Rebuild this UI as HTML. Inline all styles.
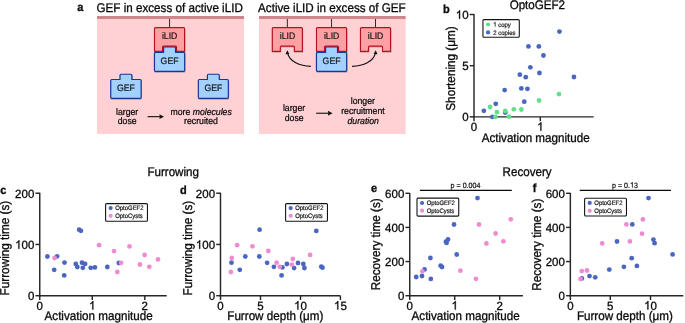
<!DOCTYPE html>
<html><head><meta charset="utf-8"><title>Figure</title>
<style>
html,body{margin:0;padding:0;background:#fff;}
body{width:685px;height:323px;overflow:hidden;}
svg{display:block;font-family:"Liberation Sans", sans-serif;text-rendering:geometricPrecision;will-change:transform;}
</style></head>
<body>
<svg width="685" height="323" viewBox="0 0 685 323">
<rect width="685" height="323" fill="#fff"/>
<text transform="translate(77.30,11.40) scale(0.25,0.2700)" font-size="44.00" text-anchor="start" font-weight="bold" fill="#0a0a0a" stroke="#0a0a0a" stroke-width="1.144">a</text>
<text transform="translate(96.50,11.80) scale(0.25,0.2700)" font-size="46.60" text-anchor="start" fill="#0a0a0a" stroke="#0a0a0a" stroke-width="1.212">GEF in excess of active iLID</text>
<text transform="translate(258.10,11.80) scale(0.25,0.2700)" font-size="46.60" text-anchor="start" fill="#0a0a0a" stroke="#0a0a0a" stroke-width="1.212">Active iLID in excess of GEF</text>
<rect x="97" y="16" width="147" height="118" fill="#ffd0d4"/>
<rect x="97" y="16" width="147" height="3" fill="#cd878b"/>
<rect x="259" y="16" width="146.6" height="118" fill="#ffd0d4"/>
<rect x="259" y="16" width="146.6" height="3" fill="#cd878b"/>
<path d="M164.60,46.85 H174.50 Q175.50,46.85 175.50,47.85 V52.40 H183.65 Q184.65,52.40 184.65,53.40 V70.30 Q184.65,71.30 183.65,71.30 H155.45 Q154.45,71.30 154.45,70.30 V53.40 Q154.45,52.40 155.45,52.40 H163.60 V47.85 Q163.60,46.85 164.60,46.85 Z" fill="none" stroke="#17398f" stroke-opacity="0.35" stroke-width="1.2" transform="translate(0.25,0.9)"/>
<path d="M155.50,27.55 H183.60 Q184.60,27.55 184.60,28.55 V51.35 H176.55 V47.05 Q176.55,46.05 175.55,46.05 H163.55 Q162.55,46.05 162.55,47.05 V51.35 H154.50 V28.55 Q154.50,27.55 155.50,27.55 Z" fill="none" stroke="#b3111b" stroke-opacity="0.3" stroke-width="1.2" transform="translate(0.25,0.9)"/>
<path d="M121.00,74.25 H130.90 Q131.90,74.25 131.90,75.25 V79.50 H140.15 Q141.15,79.50 141.15,80.50 V97.30 Q141.15,98.30 140.15,98.30 H111.75 Q110.75,98.30 110.75,97.30 V80.50 Q110.75,79.50 111.75,79.50 H120.00 V75.25 Q120.00,74.25 121.00,74.25 Z" fill="none" stroke="#17398f" stroke-opacity="0.35" stroke-width="1.2" transform="translate(0.25,0.9)"/>
<path d="M208.40,74.25 H218.30 Q219.30,74.25 219.30,75.25 V79.50 H227.35 Q228.35,79.50 228.35,80.50 V97.30 Q228.35,98.30 227.35,98.30 H199.35 Q198.35,98.30 198.35,97.30 V80.50 Q198.35,79.50 199.35,79.50 H207.40 V75.25 Q207.40,74.25 208.40,74.25 Z" fill="none" stroke="#17398f" stroke-opacity="0.35" stroke-width="1.2" transform="translate(0.25,0.9)"/>
<path d="M273.30,27.55 H301.40 Q302.40,27.55 302.40,28.55 V51.35 H294.35 V47.05 Q294.35,46.05 293.35,46.05 H281.35 Q280.35,46.05 280.35,47.05 V51.35 H272.30 V28.55 Q272.30,27.55 273.30,27.55 Z" fill="none" stroke="#b3111b" stroke-opacity="0.3" stroke-width="1.2" transform="translate(0.25,0.9)"/>
<path d="M326.60,46.80 H336.50 Q337.50,46.80 337.50,47.80 V52.40 H345.65 Q346.65,52.40 346.65,53.40 V70.30 Q346.65,71.30 345.65,71.30 H317.45 Q316.45,71.30 316.45,70.30 V53.40 Q316.45,52.40 317.45,52.40 H325.60 V47.80 Q325.60,46.80 326.60,46.80 Z" fill="none" stroke="#17398f" stroke-opacity="0.35" stroke-width="1.2" transform="translate(0.25,0.9)"/>
<path d="M317.50,27.55 H345.60 Q346.60,27.55 346.60,28.55 V51.35 H338.55 V47.05 Q338.55,46.05 337.55,46.05 H325.55 Q324.55,46.05 324.55,47.05 V51.35 H316.50 V28.55 Q316.50,27.55 317.50,27.55 Z" fill="none" stroke="#b3111b" stroke-opacity="0.3" stroke-width="1.2" transform="translate(0.25,0.9)"/>
<path d="M361.45,27.55 H389.55 Q390.55,27.55 390.55,28.55 V51.35 H382.50 V47.05 Q382.50,46.05 381.50,46.05 H369.50 Q368.50,46.05 368.50,47.05 V51.35 H360.45 V28.55 Q360.45,27.55 361.45,27.55 Z" fill="none" stroke="#b3111b" stroke-opacity="0.3" stroke-width="1.2" transform="translate(0.25,0.9)"/>
<path d="M164.60,46.85 H174.50 Q175.50,46.85 175.50,47.85 V52.40 H183.65 Q184.65,52.40 184.65,53.40 V70.30 Q184.65,71.30 183.65,71.30 H155.45 Q154.45,71.30 154.45,70.30 V53.40 Q154.45,52.40 155.45,52.40 H163.60 V47.85 Q163.60,46.85 164.60,46.85 Z" fill="#a2d0ff" stroke="#17398f" stroke-width="1.2" stroke-linejoin="round"/>
<text transform="translate(169.55,63.70) scale(0.25,0.2700)" font-size="34.80" text-anchor="middle" fill="#1a1a1a" stroke="#1a1a1a" stroke-width="0.905">GEF</text>
<path d="M155.50,27.55 H183.60 Q184.60,27.55 184.60,28.55 V51.35 H176.55 V47.05 Q176.55,46.05 175.55,46.05 H163.55 Q162.55,46.05 162.55,47.05 V51.35 H154.50 V28.55 Q154.50,27.55 155.50,27.55 Z" fill="#ffa0a4" stroke="#b3111b" stroke-width="1.15" stroke-linejoin="round"/>
<line x1="169.55" y1="19" x2="169.55" y2="27.150000000000002" stroke="#2a2a2a" stroke-width="1.0"/>
<text transform="translate(169.65,39.30) scale(0.25,0.2700)" font-size="34.80" text-anchor="middle" fill="#1a1a1a" stroke="#1a1a1a" stroke-width="0.905">iLID</text>
<path d="M121.00,74.25 H130.90 Q131.90,74.25 131.90,75.25 V79.50 H140.15 Q141.15,79.50 141.15,80.50 V97.30 Q141.15,98.30 140.15,98.30 H111.75 Q110.75,98.30 110.75,97.30 V80.50 Q110.75,79.50 111.75,79.50 H120.00 V75.25 Q120.00,74.25 121.00,74.25 Z" fill="#a2d0ff" stroke="#17398f" stroke-width="1.2" stroke-linejoin="round"/>
<text transform="translate(125.95,90.70) scale(0.25,0.2700)" font-size="34.80" text-anchor="middle" fill="#1a1a1a" stroke="#1a1a1a" stroke-width="0.905">GEF</text>
<path d="M208.40,74.25 H218.30 Q219.30,74.25 219.30,75.25 V79.50 H227.35 Q228.35,79.50 228.35,80.50 V97.30 Q228.35,98.30 227.35,98.30 H199.35 Q198.35,98.30 198.35,97.30 V80.50 Q198.35,79.50 199.35,79.50 H207.40 V75.25 Q207.40,74.25 208.40,74.25 Z" fill="#a2d0ff" stroke="#17398f" stroke-width="1.2" stroke-linejoin="round"/>
<text transform="translate(213.35,90.70) scale(0.25,0.2700)" font-size="34.80" text-anchor="middle" fill="#1a1a1a" stroke="#1a1a1a" stroke-width="0.905">GEF</text>
<path d="M273.30,27.55 H301.40 Q302.40,27.55 302.40,28.55 V51.35 H294.35 V47.05 Q294.35,46.05 293.35,46.05 H281.35 Q280.35,46.05 280.35,47.05 V51.35 H272.30 V28.55 Q272.30,27.55 273.30,27.55 Z" fill="#ffa0a4" stroke="#b3111b" stroke-width="1.15" stroke-linejoin="round"/>
<line x1="287.35" y1="19" x2="287.35" y2="27.150000000000002" stroke="#2a2a2a" stroke-width="1.0"/>
<text transform="translate(287.45,39.30) scale(0.25,0.2700)" font-size="34.80" text-anchor="middle" fill="#1a1a1a" stroke="#1a1a1a" stroke-width="0.905">iLID</text>
<path d="M326.60,46.80 H336.50 Q337.50,46.80 337.50,47.80 V52.40 H345.65 Q346.65,52.40 346.65,53.40 V70.30 Q346.65,71.30 345.65,71.30 H317.45 Q316.45,71.30 316.45,70.30 V53.40 Q316.45,52.40 317.45,52.40 H325.60 V47.80 Q325.60,46.80 326.60,46.80 Z" fill="#a2d0ff" stroke="#17398f" stroke-width="1.2" stroke-linejoin="round"/>
<text transform="translate(331.55,63.70) scale(0.25,0.2700)" font-size="34.80" text-anchor="middle" fill="#1a1a1a" stroke="#1a1a1a" stroke-width="0.905">GEF</text>
<path d="M317.50,27.55 H345.60 Q346.60,27.55 346.60,28.55 V51.35 H338.55 V47.05 Q338.55,46.05 337.55,46.05 H325.55 Q324.55,46.05 324.55,47.05 V51.35 H316.50 V28.55 Q316.50,27.55 317.50,27.55 Z" fill="#ffa0a4" stroke="#b3111b" stroke-width="1.15" stroke-linejoin="round"/>
<line x1="331.55" y1="19" x2="331.55" y2="27.150000000000002" stroke="#2a2a2a" stroke-width="1.0"/>
<text transform="translate(331.65,39.30) scale(0.25,0.2700)" font-size="34.80" text-anchor="middle" fill="#1a1a1a" stroke="#1a1a1a" stroke-width="0.905">iLID</text>
<path d="M361.45,27.55 H389.55 Q390.55,27.55 390.55,28.55 V51.35 H382.50 V47.05 Q382.50,46.05 381.50,46.05 H369.50 Q368.50,46.05 368.50,47.05 V51.35 H360.45 V28.55 Q360.45,27.55 361.45,27.55 Z" fill="#ffa0a4" stroke="#b3111b" stroke-width="1.15" stroke-linejoin="round"/>
<line x1="375.5" y1="19" x2="375.5" y2="27.150000000000002" stroke="#2a2a2a" stroke-width="1.0"/>
<text transform="translate(375.60,39.30) scale(0.25,0.2700)" font-size="34.80" text-anchor="middle" fill="#1a1a1a" stroke="#1a1a1a" stroke-width="0.905">iLID</text>
<line x1="147.6" y1="116.65" x2="161.1" y2="116.65" stroke="#161616" stroke-width="1.15"/>
<path d="M164.10,116.65 L159.40,114.25 L159.80,116.65 L159.40,119.05 Z" fill="#161616"/>
<line x1="316.2" y1="113.25" x2="329.6" y2="113.25" stroke="#161616" stroke-width="1.15"/>
<path d="M332.60,113.25 L327.90,110.85 L328.30,113.25 L327.90,115.65 Z" fill="#161616"/>
<path d="M310.9,66.4 C299.5,66.0 289.6,61.5 287.7,53.3" fill="none" stroke="#111" stroke-width="1.2"/>
<path d="M287.3,50.2 L285.5,54.2 L289.3,54.0 Z" fill="#111"/>
<path d="M352.1,66.4 C363.5,66.0 373.4,61.5 375.3,53.3" fill="none" stroke="#111" stroke-width="1.2"/>
<path d="M375.7,50.2 L377.5,54.2 L373.7,54.0 Z" fill="#111"/>
<text transform="translate(127.10,114.60) scale(0.25,0.2700)" font-size="34.80" text-anchor="middle" fill="#0a0a0a" stroke="#0a0a0a" stroke-width="0.905">larger</text>
<text transform="translate(127.20,124.40) scale(0.25,0.2700)" font-size="34.80" text-anchor="middle" fill="#0a0a0a" stroke="#0a0a0a" stroke-width="0.905">dose</text>
<text transform="translate(201.10,114.60) scale(0.25,0.2700)" font-size="34.80" text-anchor="middle" fill="#0a0a0a" stroke="#0a0a0a" stroke-width="0.905">more <tspan font-style="italic">molecules</tspan></text>
<text transform="translate(201.00,124.40) scale(0.25,0.2700)" font-size="34.80" text-anchor="middle" fill="#0a0a0a" stroke="#0a0a0a" stroke-width="0.905">recruited</text>
<text transform="translate(294.00,111.30) scale(0.25,0.2700)" font-size="34.80" text-anchor="middle" fill="#0a0a0a" stroke="#0a0a0a" stroke-width="0.905">larger</text>
<text transform="translate(294.20,121.00) scale(0.25,0.2700)" font-size="34.80" text-anchor="middle" fill="#0a0a0a" stroke="#0a0a0a" stroke-width="0.905">dose</text>
<text transform="translate(362.80,104.45) scale(0.25,0.2700)" font-size="34.80" text-anchor="middle" fill="#0a0a0a" stroke="#0a0a0a" stroke-width="0.905">longer</text>
<text transform="translate(362.90,114.30) scale(0.25,0.2700)" font-size="34.80" text-anchor="middle" fill="#0a0a0a" stroke="#0a0a0a" stroke-width="0.905">recruitment</text>
<text transform="translate(363.20,124.10) scale(0.25,0.2700)" font-size="34.80" text-anchor="middle" font-style="italic" fill="#0a0a0a" stroke="#0a0a0a" stroke-width="0.905">duration</text>
<text transform="translate(443.00,12.60) scale(0.25,0.2700)" font-size="44.00" text-anchor="start" font-weight="bold" fill="#0a0a0a" stroke="#0a0a0a" stroke-width="1.144">b</text>
<text transform="translate(537.35,8.50) scale(0.25,0.2700)" font-size="46.40" text-anchor="middle" fill="#0a0a0a" stroke="#0a0a0a" stroke-width="1.206">OptoGEF2</text>
<line x1="474.0" y1="14.1" x2="474.0" y2="117.55" stroke="#262626" stroke-width="1.45"/>
<line x1="469.7" y1="14.5" x2="474.0" y2="14.5" stroke="#262626" stroke-width="1.45"/>
<path d="M763,0 L583,0 L583,1147 Q518,1085 412,1023 Q307,961 223,930 L223,1104 Q374,1175 487,1276 Q600,1377 647,1472 L763,1472 Z" fill="#0a0a0a" stroke="#0a0a0a" stroke-width="53.2" transform="translate(455.76,18.85) scale(0.005615,-0.005840)"/>
<text transform="translate(468.55,18.85) scale(0.25,0.2600)" font-size="46.00" text-anchor="end" fill="#0a0a0a" stroke="#0a0a0a" stroke-width="1.196"> 0</text>
<line x1="469.7" y1="65.7" x2="474.0" y2="65.7" stroke="#262626" stroke-width="1.45"/>
<text transform="translate(468.55,70.05) scale(0.25,0.2600)" font-size="46.00" text-anchor="end" fill="#0a0a0a" stroke="#0a0a0a" stroke-width="1.196">5</text>
<line x1="469.7" y1="116.85" x2="474.0" y2="116.85" stroke="#262626" stroke-width="1.45"/>
<text transform="translate(468.55,121.20) scale(0.25,0.2600)" font-size="46.00" text-anchor="end" fill="#0a0a0a" stroke="#0a0a0a" stroke-width="1.196">0</text>
<line x1="473.3" y1="116.85" x2="593.7" y2="116.85" stroke="#262626" stroke-width="1.45"/>
<line x1="474.0" y1="116.85" x2="474.0" y2="121.14999999999999" stroke="#262626" stroke-width="1.45"/>
<text transform="translate(474.00,130.75) scale(0.25,0.2600)" font-size="46.00" text-anchor="middle" fill="#0a0a0a" stroke="#0a0a0a" stroke-width="1.196">0</text>
<line x1="540.3" y1="116.85" x2="540.3" y2="121.14999999999999" stroke="#262626" stroke-width="1.45"/>
<path d="M763,0 L583,0 L583,1147 Q518,1085 412,1023 Q307,961 223,930 L223,1104 Q374,1175 487,1276 Q600,1377 647,1472 L763,1472 Z" fill="#0a0a0a" stroke="#0a0a0a" stroke-width="53.2" transform="translate(537.10,130.75) scale(0.005615,-0.005840)"/>
<text transform="translate(540.30,130.75) scale(0.25,0.2600)" font-size="46.00" text-anchor="middle" fill="#0a0a0a" stroke="#0a0a0a" stroke-width="1.196"> </text>
<text transform="translate(535.70,141.80) scale(0.25,0.2700)" font-size="46.60" text-anchor="middle" fill="#0a0a0a" stroke="#0a0a0a" stroke-width="1.212">Activation magnitude</text>
<text transform="translate(454.50,68.50) rotate(-90) scale(0.25,0.2725)" font-size="47.00" text-anchor="middle" fill="#0a0a0a" stroke="#0a0a0a" stroke-width="1.222">Shortening (μm)</text>
<rect x="482.95" y="19.60" width="36.35" height="17.70" rx="1.0" fill="#fff" stroke="#141414" stroke-width="1.1"/>
<circle cx="488.05" cy="24.5" r="2.1" fill="#62df8b"/>
<path d="M763,0 L583,0 L583,1147 Q518,1085 412,1023 Q307,961 223,930 L223,1104 Q374,1175 487,1276 Q600,1377 647,1472 L763,1472 Z" fill="#0a0a0a" stroke="#0a0a0a" stroke-width="53.2" transform="translate(493.15,26.60) scale(0.002930,-0.003164)"/>
<text transform="translate(493.15,26.60) scale(0.25,0.2700)" font-size="24.00" text-anchor="start" fill="#0a0a0a" stroke="#0a0a0a" stroke-width="0.624">  copy</text>
<circle cx="488.05" cy="32.4" r="2.1" fill="#4a66c0"/>
<text transform="translate(493.15,34.50) scale(0.25,0.2700)" font-size="24.00" text-anchor="start" fill="#0a0a0a" stroke="#0a0a0a" stroke-width="0.624">2 copies</text>
<circle cx="559.4499999999999" cy="31.6" r="2.4" fill="#4a66c0"/>
<circle cx="528.4499999999999" cy="46.4" r="2.4" fill="#4a66c0"/>
<circle cx="538.85" cy="46.4" r="2.4" fill="#4a66c0"/>
<circle cx="543.4499999999999" cy="55.5" r="2.4" fill="#4a66c0"/>
<circle cx="530.35" cy="67.3" r="2.4" fill="#4a66c0"/>
<circle cx="539.4499999999999" cy="73.0" r="2.4" fill="#4a66c0"/>
<circle cx="519.85" cy="74.7" r="2.4" fill="#4a66c0"/>
<circle cx="525.75" cy="77.2" r="2.4" fill="#4a66c0"/>
<circle cx="573.9499999999999" cy="77.0" r="2.4" fill="#4a66c0"/>
<circle cx="504.65" cy="90.1" r="2.4" fill="#4a66c0"/>
<circle cx="521.35" cy="88.39999999999999" r="2.4" fill="#4a66c0"/>
<circle cx="527.4499999999999" cy="88.8" r="2.4" fill="#4a66c0"/>
<circle cx="524.25" cy="101.7" r="2.4" fill="#4a66c0"/>
<circle cx="495.75" cy="103.8" r="2.4" fill="#4a66c0"/>
<circle cx="483.84999999999997" cy="110.8" r="2.4" fill="#4a66c0"/>
<circle cx="505.25" cy="112.5" r="2.4" fill="#4a66c0"/>
<circle cx="492.34999999999997" cy="116.89999999999999" r="2.4" fill="#4a66c0"/>
<circle cx="558.9499999999999" cy="94.1" r="2.4" fill="#62df8b"/>
<circle cx="539.05" cy="100.5" r="2.4" fill="#62df8b"/>
<circle cx="490.04999999999995" cy="107.0" r="2.4" fill="#62df8b"/>
<circle cx="513.85" cy="109.3" r="2.4" fill="#62df8b"/>
<circle cx="521.35" cy="109.5" r="2.4" fill="#62df8b"/>
<circle cx="496.95" cy="112.1" r="2.4" fill="#62df8b"/>
<circle cx="505.25" cy="111.0" r="2.4" fill="#62df8b"/>
<circle cx="495.34999999999997" cy="116.89999999999999" r="2.4" fill="#62df8b"/>
<circle cx="509.04999999999995" cy="116.7" r="2.4" fill="#62df8b"/>
<text transform="translate(147.40,175.70) scale(0.25,0.2700)" font-size="46.40" text-anchor="start" fill="#0a0a0a" stroke="#0a0a0a" stroke-width="1.206">Furrowing</text>
<text transform="translate(502.60,176.00) scale(0.25,0.2700)" font-size="46.40" text-anchor="start" fill="#0a0a0a" stroke="#0a0a0a" stroke-width="1.206">Recovery</text>
<text transform="translate(0.20,193.70) scale(0.25,0.2700)" font-size="44.00" text-anchor="start" font-weight="bold" fill="#0a0a0a" stroke="#0a0a0a" stroke-width="1.144">c</text>
<line x1="39.75" y1="192.79999999999998" x2="39.75" y2="296.4" stroke="#262626" stroke-width="1.45"/>
<line x1="35.45" y1="193.2" x2="39.75" y2="193.2" stroke="#262626" stroke-width="1.45"/>
<text transform="translate(34.30,197.55) scale(0.25,0.2600)" font-size="46.00" text-anchor="end" fill="#0a0a0a" stroke="#0a0a0a" stroke-width="1.196">200</text>
<line x1="35.45" y1="244.45" x2="39.75" y2="244.45" stroke="#262626" stroke-width="1.45"/>
<path d="M763,0 L583,0 L583,1147 Q518,1085 412,1023 Q307,961 223,930 L223,1104 Q374,1175 487,1276 Q600,1377 647,1472 L763,1472 Z" fill="#0a0a0a" stroke="#0a0a0a" stroke-width="53.2" transform="translate(15.11,248.80) scale(0.005615,-0.005840)"/>
<text transform="translate(34.30,248.80) scale(0.25,0.2600)" font-size="46.00" text-anchor="end" fill="#0a0a0a" stroke="#0a0a0a" stroke-width="1.196"> 00</text>
<line x1="35.45" y1="295.7" x2="39.75" y2="295.7" stroke="#262626" stroke-width="1.45"/>
<text transform="translate(34.30,300.05) scale(0.25,0.2600)" font-size="46.00" text-anchor="end" fill="#0a0a0a" stroke="#0a0a0a" stroke-width="1.196">0</text>
<line x1="39.05" y1="295.7" x2="166.7" y2="295.7" stroke="#262626" stroke-width="1.45"/>
<line x1="39.75" y1="295.7" x2="39.75" y2="300.0" stroke="#262626" stroke-width="1.45"/>
<text transform="translate(39.75,309.60) scale(0.25,0.2600)" font-size="46.00" text-anchor="middle" fill="#0a0a0a" stroke="#0a0a0a" stroke-width="1.196">0</text>
<line x1="92.25" y1="295.7" x2="92.25" y2="300.0" stroke="#262626" stroke-width="1.45"/>
<path d="M763,0 L583,0 L583,1147 Q518,1085 412,1023 Q307,961 223,930 L223,1104 Q374,1175 487,1276 Q600,1377 647,1472 L763,1472 Z" fill="#0a0a0a" stroke="#0a0a0a" stroke-width="53.2" transform="translate(89.05,309.60) scale(0.005615,-0.005840)"/>
<text transform="translate(92.25,309.60) scale(0.25,0.2600)" font-size="46.00" text-anchor="middle" fill="#0a0a0a" stroke="#0a0a0a" stroke-width="1.196"> </text>
<line x1="144.8" y1="295.7" x2="144.8" y2="300.0" stroke="#262626" stroke-width="1.45"/>
<text transform="translate(144.80,309.60) scale(0.25,0.2600)" font-size="46.00" text-anchor="middle" fill="#0a0a0a" stroke="#0a0a0a" stroke-width="1.196">2</text>
<text transform="translate(98.60,319.80) scale(0.25,0.2700)" font-size="46.60" text-anchor="middle" fill="#0a0a0a" stroke="#0a0a0a" stroke-width="1.212">Activation magnitude</text>
<text transform="translate(8.50,248.10) rotate(-90) scale(0.25,0.2725)" font-size="47.00" text-anchor="middle" fill="#0a0a0a" stroke="#0a0a0a" stroke-width="1.222">Furrowing time (s)</text>
<rect x="105.60" y="203.60" width="41.85" height="17.70" rx="1.0" fill="#fff" stroke="#141414" stroke-width="1.1"/>
<circle cx="110.65" cy="208.1" r="2.1" fill="#4a66c0"/>
<text transform="translate(115.25,210.20) scale(0.25,0.2700)" font-size="23.60" text-anchor="start" fill="#0a0a0a" stroke="#0a0a0a" stroke-width="0.614">OptoGEF2</text>
<circle cx="110.65" cy="215.85" r="2.1" fill="#ef8bd2"/>
<text transform="translate(115.25,217.95) scale(0.25,0.2700)" font-size="23.60" text-anchor="start" fill="#0a0a0a" stroke="#0a0a0a" stroke-width="0.614">OptoCysts</text>
<circle cx="79.2" cy="229.7" r="2.4" fill="#4a66c0"/>
<circle cx="80.9" cy="230.8" r="2.4" fill="#4a66c0"/>
<circle cx="47.4" cy="256.5" r="2.4" fill="#4a66c0"/>
<circle cx="57.1" cy="256.3" r="2.4" fill="#4a66c0"/>
<circle cx="64.5" cy="262.6" r="2.4" fill="#4a66c0"/>
<circle cx="54.2" cy="269.8" r="2.4" fill="#4a66c0"/>
<circle cx="64.2" cy="275.4" r="2.4" fill="#4a66c0"/>
<circle cx="75.8" cy="263.9" r="2.4" fill="#4a66c0"/>
<circle cx="77.3" cy="267" r="2.4" fill="#4a66c0"/>
<circle cx="82" cy="262.7" r="2.4" fill="#4a66c0"/>
<circle cx="85.1" cy="263.9" r="2.4" fill="#4a66c0"/>
<circle cx="82.8" cy="267.8" r="2.4" fill="#4a66c0"/>
<circle cx="90.7" cy="267.8" r="2.4" fill="#4a66c0"/>
<circle cx="94.9" cy="267.4" r="2.4" fill="#4a66c0"/>
<circle cx="107.3" cy="267" r="2.4" fill="#4a66c0"/>
<circle cx="118.8" cy="263" r="2.4" fill="#4a66c0"/>
<circle cx="54.6" cy="258" r="2.4" fill="#ef8bd2"/>
<circle cx="99.1" cy="245.2" r="2.4" fill="#ef8bd2"/>
<circle cx="114" cy="251.1" r="2.4" fill="#ef8bd2"/>
<circle cx="129.5" cy="246.4" r="2.4" fill="#ef8bd2"/>
<circle cx="144.6" cy="255" r="2.4" fill="#ef8bd2"/>
<circle cx="158" cy="259.4" r="2.4" fill="#ef8bd2"/>
<circle cx="121.1" cy="262.8" r="2.4" fill="#ef8bd2"/>
<circle cx="139.9" cy="264.5" r="2.4" fill="#ef8bd2"/>
<circle cx="149.3" cy="266.8" r="2.4" fill="#ef8bd2"/>
<circle cx="117.3" cy="272" r="2.4" fill="#ef8bd2"/>
<text transform="translate(179.90,194.40) scale(0.25,0.2700)" font-size="44.00" text-anchor="start" font-weight="bold" fill="#0a0a0a" stroke="#0a0a0a" stroke-width="1.144">d</text>
<line x1="220.5" y1="192.79999999999998" x2="220.5" y2="296.4" stroke="#262626" stroke-width="1.45"/>
<line x1="216.2" y1="193.2" x2="220.5" y2="193.2" stroke="#262626" stroke-width="1.45"/>
<text transform="translate(215.05,197.55) scale(0.25,0.2600)" font-size="46.00" text-anchor="end" fill="#0a0a0a" stroke="#0a0a0a" stroke-width="1.196">200</text>
<line x1="216.2" y1="244.45" x2="220.5" y2="244.45" stroke="#262626" stroke-width="1.45"/>
<path d="M763,0 L583,0 L583,1147 Q518,1085 412,1023 Q307,961 223,930 L223,1104 Q374,1175 487,1276 Q600,1377 647,1472 L763,1472 Z" fill="#0a0a0a" stroke="#0a0a0a" stroke-width="53.2" transform="translate(195.86,248.80) scale(0.005615,-0.005840)"/>
<text transform="translate(215.05,248.80) scale(0.25,0.2600)" font-size="46.00" text-anchor="end" fill="#0a0a0a" stroke="#0a0a0a" stroke-width="1.196"> 00</text>
<line x1="216.2" y1="295.7" x2="220.5" y2="295.7" stroke="#262626" stroke-width="1.45"/>
<text transform="translate(215.05,300.05) scale(0.25,0.2600)" font-size="46.00" text-anchor="end" fill="#0a0a0a" stroke="#0a0a0a" stroke-width="1.196">0</text>
<line x1="219.8" y1="295.7" x2="340.4" y2="295.7" stroke="#262626" stroke-width="1.45"/>
<line x1="220.5" y1="295.7" x2="220.5" y2="300.0" stroke="#262626" stroke-width="1.45"/>
<text transform="translate(220.50,309.60) scale(0.25,0.2600)" font-size="46.00" text-anchor="middle" fill="#0a0a0a" stroke="#0a0a0a" stroke-width="1.196">0</text>
<line x1="260.5" y1="295.7" x2="260.5" y2="300.0" stroke="#262626" stroke-width="1.45"/>
<text transform="translate(260.50,309.60) scale(0.25,0.2600)" font-size="46.00" text-anchor="middle" fill="#0a0a0a" stroke="#0a0a0a" stroke-width="1.196">5</text>
<line x1="300.5" y1="295.7" x2="300.5" y2="300.0" stroke="#262626" stroke-width="1.45"/>
<path d="M763,0 L583,0 L583,1147 Q518,1085 412,1023 Q307,961 223,930 L223,1104 Q374,1175 487,1276 Q600,1377 647,1472 L763,1472 Z" fill="#0a0a0a" stroke="#0a0a0a" stroke-width="53.2" transform="translate(294.10,309.60) scale(0.005615,-0.005840)"/>
<text transform="translate(300.50,309.60) scale(0.25,0.2600)" font-size="46.00" text-anchor="middle" fill="#0a0a0a" stroke="#0a0a0a" stroke-width="1.196"> 0</text>
<line x1="340.4" y1="295.7" x2="340.4" y2="300.0" stroke="#262626" stroke-width="1.45"/>
<path d="M763,0 L583,0 L583,1147 Q518,1085 412,1023 Q307,961 223,930 L223,1104 Q374,1175 487,1276 Q600,1377 647,1472 L763,1472 Z" fill="#0a0a0a" stroke="#0a0a0a" stroke-width="53.2" transform="translate(334.00,309.60) scale(0.005615,-0.005840)"/>
<text transform="translate(340.40,309.60) scale(0.25,0.2600)" font-size="46.00" text-anchor="middle" fill="#0a0a0a" stroke="#0a0a0a" stroke-width="1.196"> 5</text>
<text transform="translate(275.30,319.90) scale(0.25,0.2700)" font-size="46.60" text-anchor="middle" fill="#0a0a0a" stroke="#0a0a0a" stroke-width="1.212">Furrow depth (μm)</text>
<text transform="translate(191.80,248.10) rotate(-90) scale(0.25,0.2725)" font-size="47.00" text-anchor="middle" fill="#0a0a0a" stroke="#0a0a0a" stroke-width="1.222">Furrowing time (s)</text>
<rect x="285.60" y="203.60" width="41.85" height="17.70" rx="1.0" fill="#fff" stroke="#141414" stroke-width="1.1"/>
<circle cx="290.65" cy="208.1" r="2.1" fill="#4a66c0"/>
<text transform="translate(295.25,210.20) scale(0.25,0.2700)" font-size="23.60" text-anchor="start" fill="#0a0a0a" stroke="#0a0a0a" stroke-width="0.614">OptoGEF2</text>
<circle cx="290.65" cy="215.85" r="2.1" fill="#ef8bd2"/>
<text transform="translate(295.25,217.95) scale(0.25,0.2700)" font-size="23.60" text-anchor="start" fill="#0a0a0a" stroke="#0a0a0a" stroke-width="0.614">OptoCysts</text>
<circle cx="259.6" cy="229.7" r="2.4" fill="#4a66c0"/>
<circle cx="316.3" cy="230.9" r="2.4" fill="#4a66c0"/>
<circle cx="245.3" cy="256.5" r="2.4" fill="#4a66c0"/>
<circle cx="259.3" cy="256.5" r="2.4" fill="#4a66c0"/>
<circle cx="231.5" cy="262.7" r="2.4" fill="#4a66c0"/>
<circle cx="267.1" cy="262.8" r="2.4" fill="#4a66c0"/>
<circle cx="239.8" cy="269.8" r="2.4" fill="#4a66c0"/>
<circle cx="273.9" cy="266.8" r="2.4" fill="#4a66c0"/>
<circle cx="282.4" cy="267.4" r="2.4" fill="#4a66c0"/>
<circle cx="281.6" cy="275.4" r="2.4" fill="#4a66c0"/>
<circle cx="286.9" cy="264" r="2.4" fill="#4a66c0"/>
<circle cx="294.1" cy="268.1" r="2.4" fill="#4a66c0"/>
<circle cx="298" cy="263" r="2.4" fill="#4a66c0"/>
<circle cx="303.3" cy="264" r="2.4" fill="#4a66c0"/>
<circle cx="304.4" cy="268" r="2.4" fill="#4a66c0"/>
<circle cx="321.3" cy="266.7" r="2.4" fill="#4a66c0"/>
<circle cx="322.5" cy="267.7" r="2.4" fill="#4a66c0"/>
<circle cx="237.1" cy="245.2" r="2.4" fill="#ef8bd2"/>
<circle cx="252.5" cy="246.3" r="2.4" fill="#ef8bd2"/>
<circle cx="268.3" cy="251" r="2.4" fill="#ef8bd2"/>
<circle cx="231.8" cy="258" r="2.4" fill="#ef8bd2"/>
<circle cx="230.9" cy="272" r="2.4" fill="#ef8bd2"/>
<circle cx="276.6" cy="262.7" r="2.4" fill="#ef8bd2"/>
<circle cx="279.8" cy="266.8" r="2.4" fill="#ef8bd2"/>
<circle cx="292.8" cy="259" r="2.4" fill="#ef8bd2"/>
<circle cx="291.9" cy="264.6" r="2.4" fill="#ef8bd2"/>
<circle cx="310.1" cy="254.9" r="2.4" fill="#ef8bd2"/>
<text transform="translate(371.00,192.30) scale(0.25,0.2700)" font-size="44.00" text-anchor="start" font-weight="bold" fill="#0a0a0a" stroke="#0a0a0a" stroke-width="1.144">e</text>
<line x1="409.75" y1="192.9" x2="409.75" y2="296.4" stroke="#262626" stroke-width="1.45"/>
<line x1="405.45" y1="193.3" x2="409.75" y2="193.3" stroke="#262626" stroke-width="1.45"/>
<text transform="translate(404.30,197.65) scale(0.25,0.2600)" font-size="46.00" text-anchor="end" fill="#0a0a0a" stroke="#0a0a0a" stroke-width="1.196">600</text>
<line x1="405.45" y1="227.4" x2="409.75" y2="227.4" stroke="#262626" stroke-width="1.45"/>
<text transform="translate(404.30,231.75) scale(0.25,0.2600)" font-size="46.00" text-anchor="end" fill="#0a0a0a" stroke="#0a0a0a" stroke-width="1.196">400</text>
<line x1="405.45" y1="261.55" x2="409.75" y2="261.55" stroke="#262626" stroke-width="1.45"/>
<text transform="translate(404.30,265.90) scale(0.25,0.2600)" font-size="46.00" text-anchor="end" fill="#0a0a0a" stroke="#0a0a0a" stroke-width="1.196">200</text>
<line x1="405.45" y1="295.7" x2="409.75" y2="295.7" stroke="#262626" stroke-width="1.45"/>
<text transform="translate(404.30,300.05) scale(0.25,0.2600)" font-size="46.00" text-anchor="end" fill="#0a0a0a" stroke="#0a0a0a" stroke-width="1.196">0</text>
<line x1="409.05" y1="295.7" x2="522.9" y2="295.7" stroke="#262626" stroke-width="1.45"/>
<line x1="409.75" y1="295.7" x2="409.75" y2="300.0" stroke="#262626" stroke-width="1.45"/>
<text transform="translate(409.75,309.60) scale(0.25,0.2600)" font-size="46.00" text-anchor="middle" fill="#0a0a0a" stroke="#0a0a0a" stroke-width="1.196">0</text>
<line x1="454.7" y1="295.7" x2="454.7" y2="300.0" stroke="#262626" stroke-width="1.45"/>
<path d="M763,0 L583,0 L583,1147 Q518,1085 412,1023 Q307,961 223,930 L223,1104 Q374,1175 487,1276 Q600,1377 647,1472 L763,1472 Z" fill="#0a0a0a" stroke="#0a0a0a" stroke-width="53.2" transform="translate(451.50,309.60) scale(0.005615,-0.005840)"/>
<text transform="translate(454.70,309.60) scale(0.25,0.2600)" font-size="46.00" text-anchor="middle" fill="#0a0a0a" stroke="#0a0a0a" stroke-width="1.196"> </text>
<line x1="499.7" y1="295.7" x2="499.7" y2="300.0" stroke="#262626" stroke-width="1.45"/>
<text transform="translate(499.70,309.60) scale(0.25,0.2600)" font-size="46.00" text-anchor="middle" fill="#0a0a0a" stroke="#0a0a0a" stroke-width="1.196">2</text>
<text transform="translate(465.60,320.40) scale(0.25,0.2700)" font-size="46.60" text-anchor="middle" fill="#0a0a0a" stroke="#0a0a0a" stroke-width="1.212">Activation magnitude</text>
<text transform="translate(379.60,244.30) rotate(-90) scale(0.25,0.2725)" font-size="47.00" text-anchor="middle" fill="#0a0a0a" stroke="#0a0a0a" stroke-width="1.222">Recovery time (s)</text>
<line x1="419.9" y1="190.4" x2="511.8" y2="190.4" stroke="#0a0a0a" stroke-width="1.2"/>
<text transform="translate(465.50,187.60) scale(0.25,0.2700)" font-size="28.40" text-anchor="middle" fill="#0a0a0a" stroke="#0a0a0a" stroke-width="0.738">p = 0.004</text>
<rect x="417.00" y="198.15" width="41.75" height="17.95" rx="1.0" fill="#fff" stroke="#141414" stroke-width="1.1"/>
<circle cx="422.05" cy="203.0" r="2.1" fill="#4a66c0"/>
<text transform="translate(426.65,205.10) scale(0.25,0.2700)" font-size="23.60" text-anchor="start" fill="#0a0a0a" stroke="#0a0a0a" stroke-width="0.614">OptoGEF2</text>
<circle cx="422.05" cy="210.7" r="2.1" fill="#ef8bd2"/>
<text transform="translate(426.65,212.80) scale(0.25,0.2700)" font-size="23.60" text-anchor="start" fill="#0a0a0a" stroke="#0a0a0a" stroke-width="0.614">OptoCysts</text>
<circle cx="477.5" cy="198.1" r="2.4" fill="#4a66c0"/>
<circle cx="454" cy="224.5" r="2.4" fill="#4a66c0"/>
<circle cx="448" cy="239.5" r="2.4" fill="#4a66c0"/>
<circle cx="445.9" cy="241.7" r="2.4" fill="#4a66c0"/>
<circle cx="446.6" cy="242.9" r="2.4" fill="#4a66c0"/>
<circle cx="456.7" cy="254.5" r="2.4" fill="#4a66c0"/>
<circle cx="430.4" cy="258" r="2.4" fill="#4a66c0"/>
<circle cx="440.6" cy="265.7" r="2.4" fill="#4a66c0"/>
<circle cx="442" cy="267" r="2.4" fill="#4a66c0"/>
<circle cx="424.5" cy="269.5" r="2.4" fill="#4a66c0"/>
<circle cx="416.2" cy="277" r="2.4" fill="#4a66c0"/>
<circle cx="422" cy="276" r="2.4" fill="#4a66c0"/>
<circle cx="430.8" cy="278.9" r="2.4" fill="#4a66c0"/>
<circle cx="422.4" cy="271.3" r="2.4" fill="#ef8bd2"/>
<circle cx="460.4" cy="270.7" r="2.4" fill="#ef8bd2"/>
<circle cx="475.9" cy="278.8" r="2.4" fill="#ef8bd2"/>
<circle cx="479.0" cy="224.5" r="2.4" fill="#ef8bd2"/>
<circle cx="486.4" cy="243.5" r="2.4" fill="#ef8bd2"/>
<circle cx="495.6" cy="233.5" r="2.4" fill="#ef8bd2"/>
<circle cx="503.4" cy="241.3" r="2.4" fill="#ef8bd2"/>
<circle cx="510.8" cy="219.3" r="2.4" fill="#ef8bd2"/>
<text transform="translate(532.70,191.70) scale(0.25,0.2700)" font-size="44.00" text-anchor="start" font-weight="bold" fill="#0a0a0a" stroke="#0a0a0a" stroke-width="1.144">f</text>
<line x1="570.35" y1="192.9" x2="570.35" y2="296.4" stroke="#262626" stroke-width="1.45"/>
<line x1="566.0500000000001" y1="193.3" x2="570.35" y2="193.3" stroke="#262626" stroke-width="1.45"/>
<text transform="translate(564.90,197.65) scale(0.25,0.2600)" font-size="46.00" text-anchor="end" fill="#0a0a0a" stroke="#0a0a0a" stroke-width="1.196">600</text>
<line x1="566.0500000000001" y1="227.4" x2="570.35" y2="227.4" stroke="#262626" stroke-width="1.45"/>
<text transform="translate(564.90,231.75) scale(0.25,0.2600)" font-size="46.00" text-anchor="end" fill="#0a0a0a" stroke="#0a0a0a" stroke-width="1.196">400</text>
<line x1="566.0500000000001" y1="261.55" x2="570.35" y2="261.55" stroke="#262626" stroke-width="1.45"/>
<text transform="translate(564.90,265.90) scale(0.25,0.2600)" font-size="46.00" text-anchor="end" fill="#0a0a0a" stroke="#0a0a0a" stroke-width="1.196">200</text>
<line x1="566.0500000000001" y1="295.7" x2="570.35" y2="295.7" stroke="#262626" stroke-width="1.45"/>
<text transform="translate(564.90,300.05) scale(0.25,0.2600)" font-size="46.00" text-anchor="end" fill="#0a0a0a" stroke="#0a0a0a" stroke-width="1.196">0</text>
<line x1="569.65" y1="295.7" x2="683.3" y2="295.7" stroke="#262626" stroke-width="1.45"/>
<line x1="570.35" y1="295.7" x2="570.35" y2="300.0" stroke="#262626" stroke-width="1.45"/>
<text transform="translate(570.35,309.60) scale(0.25,0.2600)" font-size="46.00" text-anchor="middle" fill="#0a0a0a" stroke="#0a0a0a" stroke-width="1.196">0</text>
<line x1="610.3" y1="295.7" x2="610.3" y2="300.0" stroke="#262626" stroke-width="1.45"/>
<text transform="translate(610.30,309.60) scale(0.25,0.2600)" font-size="46.00" text-anchor="middle" fill="#0a0a0a" stroke="#0a0a0a" stroke-width="1.196">5</text>
<line x1="650.5" y1="295.7" x2="650.5" y2="300.0" stroke="#262626" stroke-width="1.45"/>
<path d="M763,0 L583,0 L583,1147 Q518,1085 412,1023 Q307,961 223,930 L223,1104 Q374,1175 487,1276 Q600,1377 647,1472 L763,1472 Z" fill="#0a0a0a" stroke="#0a0a0a" stroke-width="53.2" transform="translate(644.10,309.60) scale(0.005615,-0.005840)"/>
<text transform="translate(650.50,309.60) scale(0.25,0.2600)" font-size="46.00" text-anchor="middle" fill="#0a0a0a" stroke="#0a0a0a" stroke-width="1.196"> 0</text>
<text transform="translate(624.90,320.00) scale(0.25,0.2700)" font-size="46.60" text-anchor="middle" fill="#0a0a0a" stroke="#0a0a0a" stroke-width="1.212">Furrow depth (μm)</text>
<text transform="translate(540.60,244.70) rotate(-90) scale(0.25,0.2725)" font-size="47.00" text-anchor="middle" fill="#0a0a0a" stroke="#0a0a0a" stroke-width="1.222">Recovery time (s)</text>
<line x1="579.8" y1="190.4" x2="671" y2="190.4" stroke="#0a0a0a" stroke-width="1.2"/>
<path d="M763,0 L583,0 L583,1147 Q518,1085 412,1023 Q307,961 223,930 L223,1104 Q374,1175 487,1276 Q600,1377 647,1472 L763,1472 Z" fill="#0a0a0a" stroke="#0a0a0a" stroke-width="53.2" transform="translate(630.03,187.60) scale(0.003467,-0.003744)"/>
<text transform="translate(625.00,187.60) scale(0.25,0.2700)" font-size="28.40" text-anchor="middle" fill="#0a0a0a" stroke="#0a0a0a" stroke-width="0.738">p = 0. 3</text>
<rect x="584.60" y="198.25" width="41.85" height="17.80" rx="1.0" fill="#fff" stroke="#141414" stroke-width="1.1"/>
<circle cx="589.7" cy="202.9" r="2.1" fill="#4a66c0"/>
<text transform="translate(594.30,205.00) scale(0.25,0.2700)" font-size="23.60" text-anchor="start" fill="#0a0a0a" stroke="#0a0a0a" stroke-width="0.614">OptoGEF2</text>
<circle cx="589.7" cy="210.85" r="2.1" fill="#ef8bd2"/>
<text transform="translate(594.30,212.95) scale(0.25,0.2700)" font-size="23.60" text-anchor="start" fill="#0a0a0a" stroke="#0a0a0a" stroke-width="0.614">OptoCysts</text>
<circle cx="648.5" cy="198.1" r="2.4" fill="#4a66c0"/>
<circle cx="632.3" cy="224.4" r="2.4" fill="#4a66c0"/>
<circle cx="617" cy="241.5" r="2.4" fill="#4a66c0"/>
<circle cx="653.4" cy="239.6" r="2.4" fill="#4a66c0"/>
<circle cx="654.6" cy="243.2" r="2.4" fill="#4a66c0"/>
<circle cx="672.6" cy="254.4" r="2.4" fill="#4a66c0"/>
<circle cx="631.7" cy="258.2" r="2.4" fill="#4a66c0"/>
<circle cx="623.9" cy="266.8" r="2.4" fill="#4a66c0"/>
<circle cx="636.9" cy="265.9" r="2.4" fill="#4a66c0"/>
<circle cx="609.3" cy="269.6" r="2.4" fill="#4a66c0"/>
<circle cx="589.5" cy="276.1" r="2.4" fill="#4a66c0"/>
<circle cx="595.2" cy="277.3" r="2.4" fill="#4a66c0"/>
<circle cx="581.8" cy="278.5" r="2.4" fill="#4a66c0"/>
<circle cx="642.9" cy="219.4" r="2.4" fill="#ef8bd2"/>
<circle cx="626.4" cy="224.4" r="2.4" fill="#ef8bd2"/>
<circle cx="642" cy="233.7" r="2.4" fill="#ef8bd2"/>
<circle cx="629.9" cy="241.4" r="2.4" fill="#ef8bd2"/>
<circle cx="602.2" cy="243.4" r="2.4" fill="#ef8bd2"/>
<circle cx="587" cy="270.5" r="2.4" fill="#ef8bd2"/>
<circle cx="581.8" cy="271.1" r="2.4" fill="#ef8bd2"/>
<circle cx="580.5" cy="278.9" r="2.4" fill="#ef8bd2"/>
</svg>
</body></html>
